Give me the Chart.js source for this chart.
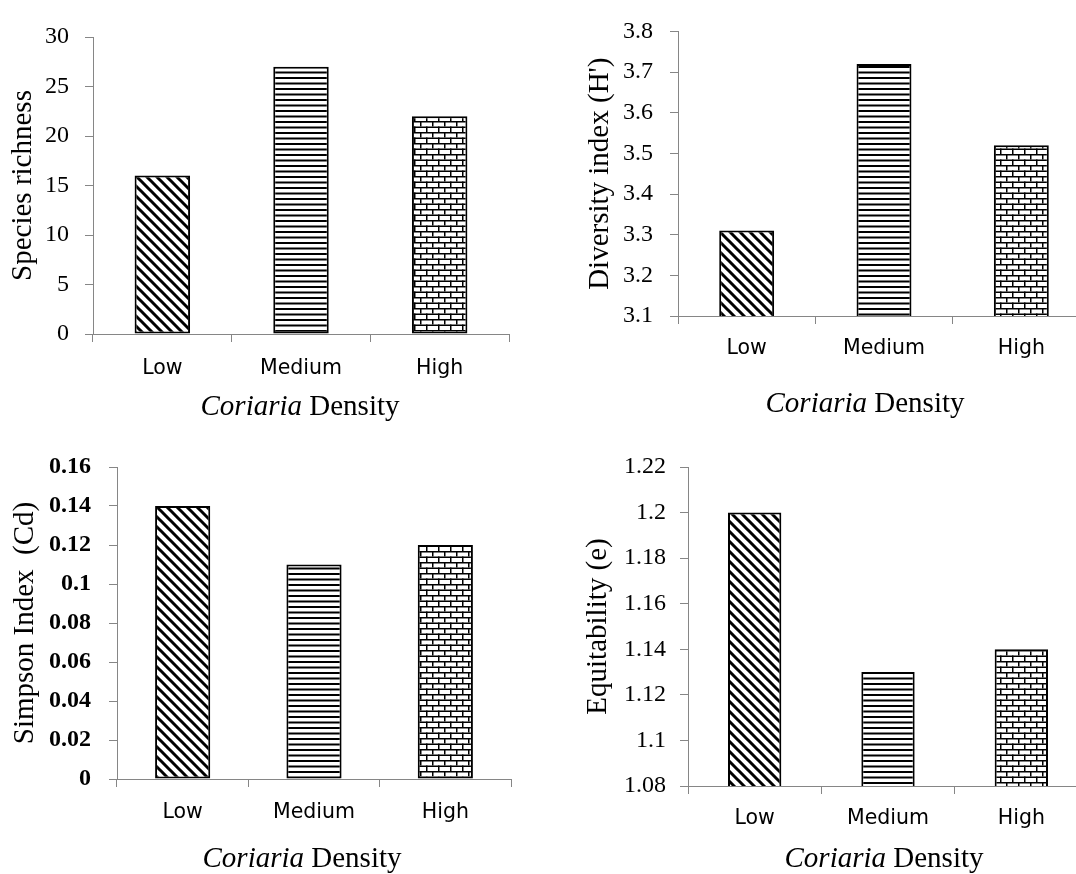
<!DOCTYPE html>
<html>
<head>
<meta charset="utf-8">
<script src="https://cdn.jsdelivr.net/npm/chart.js@4"></script>
<style>
  html, body { margin: 0; padding: 0; background: #fff; overflow: hidden; }
  #wrap { position: relative; width: 1076px; height: 874px; overflow: hidden; background: #fff; }
  #wrap canvas { position: absolute; }
  .xtitle {
    position: absolute; width: 320px; text-align: center;
    font-family: "Liberation Serif", serif; font-size: 29px; line-height: 29px;
    color: #000; white-space: nowrap;
  }
</style>
</head>
<body>
<div id="wrap">
  <canvas id="c1" width="538" height="430" style="left:0px;top:0px"></canvas>
  <canvas id="c2" width="562" height="430" style="left:538px;top:0px"></canvas>
  <canvas id="c3" width="538" height="444" style="left:0px;top:430px"></canvas>
  <canvas id="c4" width="562" height="444" style="left:538px;top:430px"></canvas>
  <div class="xtitle" style="left:140px;top:391px"><i>Coriaria</i> Density</div>
  <div class="xtitle" style="left:705px;top:388px"><i>Coriaria</i> Density</div>
  <div class="xtitle" style="left:142px;top:843px"><i>Coriaria</i> Density</div>
  <div class="xtitle" style="left:724px;top:843px"><i>Coriaria</i> Density</div>
</div>
<script>
  var categories = ['Low', 'Medium', 'High']

  var richness     = [16, 27, 22]
  var diversity    = [3.31, 3.72, 3.52]
  var simpson      = [0.14, 0.11, 0.12]
  var equitability = [1.2, 1.13, 1.14]

  var richnessTicks     = ['0', '5', '10', '15', '20', '25', '30']
  var diversityTicks    = ['3.1', '3.2', '3.3', '3.4', '3.5', '3.6', '3.7', '3.8']
  var simpsonTicks      = ['0', '0.02', '0.04', '0.06', '0.08', '0.1', '0.12', '0.14', '0.16']
  var equitabilityTicks = ['1.08', '1.1', '1.12', '1.14', '1.16', '1.18', '1.2', '1.22']

  var axisGrey = '#868686'

  // small tiles for the black & white hatch fills
  function makePattern(kind) {
    var c = document.createElement('canvas')
    var g = c.getContext('2d')
    if (kind === 'diag') {
      c.width = 10; c.height = 10
      g.fillStyle = '#fff'; g.fillRect(0, 0, 10, 10)
      g.strokeStyle = '#000'; g.lineWidth = 3
      g.beginPath()
      g.moveTo(-1, -1); g.lineTo(11, 11)
      g.moveTo(8, -2); g.lineTo(12, 2)
      g.moveTo(-2, 8); g.lineTo(2, 12)
      g.stroke()
    } else if (kind === 'horiz') {
      c.width = 4; c.height = 11
      g.fillStyle = '#fff'; g.fillRect(0, 0, 4, 11)
      g.fillStyle = '#000'
      g.fillRect(0, 0, 4, 2)
      g.fillRect(0, 5.5, 4, 2)
    } else {
      c.width = 12; c.height = 11
      g.fillStyle = '#fff'; g.fillRect(0, 0, 12, 11)
      g.fillStyle = '#000'
      g.fillRect(0, 0, 12, 1.5)
      g.fillRect(0, 5.5, 12, 1.5)
      g.fillRect(0, 0, 1.5, 5.5)
      g.fillRect(6, 5.5, 1.5, 5.5)
    }
    return g.createPattern(c, 'repeat')
  }

  var fills = [makePattern('diag'), makePattern('horiz'), makePattern('brick')]

  function makeChart(id, values, tickLabels, p) {
    var ctx = document.getElementById(id).getContext('2d')
    return new Chart(ctx, {
      type: 'bar',
      data: {
        labels: categories,
        datasets: [{
          data: values,
          backgroundColor: fills,
          borderColor: '#000',
          borderWidth: 2,
          borderSkipped: false,
          barPercentage: p.barPct,
          categoryPercentage: 1
        }]
      },
      options: {
        responsive: false,
        animation: false,
        layout: { padding: { left: 0, top: p.top, right: p.right, bottom: 0 } },
        plugins: { legend: { display: false }, tooltip: { enabled: false } },
        scales: {
          x: {
            grid: { display: true, offset: true, drawOnChartArea: false, color: axisGrey, tickLength: 8 },
            border: { color: axisGrey, width: 1 },
            ticks: {
              color: '#000', padding: p.xPad,
              font: { family: 'DejaVu Sans', size: 20.5 }
            },
            afterFit: function (s) { s.height = p.xHeight }
          },
          y: {
            min: p.min, max: p.max,
            grid: { drawOnChartArea: false, color: axisGrey, tickLength: 8 },
            border: { color: axisGrey, width: 1 },
            ticks: {
              stepSize: p.step, color: '#000', padding: p.yPad,
              font: { family: 'Liberation Serif', size: 24, weight: p.bold ? 'bold' : 'normal' },
              callback: function (v, i) { return tickLabels[i] }
            },
            title: {
              display: true, text: p.title, color: '#000',
              font: { family: 'Liberation Serif', size: 29 },
              padding: { top: p.titlePad, bottom: 0 }
            },
            afterFit: function (s) { s.width = p.yWidth }
          }
        }
      }
    })
  }

  makeChart('c1', richness, richnessTicks, {
    min: 0, max: 30, step: 5, title: 'Species richness', bold: false,
    top: 37, right: 29, yWidth: 93, xHeight: 96, barPct: 0.40,
    xPad: 14, yPad: 16, titlePad: 5.6
  })
  makeChart('c2', diversity, diversityTicks, {
    min: 3.1, max: 3.8, step: 0.1, title: "Diversity index (H')", bold: false,
    top: 20, right: 10, yWidth: 140, xHeight: 114, barPct: 0.40,
    xPad: 12, yPad: 17, titlePad: 44.6
  })
  makeChart('c3', simpson, simpsonTicks, {
    min: 0, max: 0.16, step: 0.02, title: 'Simpson Index  (Cd)', bold: true,
    top: 37, right: 27, yWidth: 117, xHeight: 95, barPct: 0.42,
    xPad: 13, yPad: 18, titlePad: 7.6
  })
  makeChart('c4', equitability, equitabilityTicks, {
    min: 1.08, max: 1.22, step: 0.02, title: 'Equitability (e)', bold: false,
    top: 37, right: 12, yWidth: 150, xHeight: 88, barPct: 0.40,
    xPad: 12, yPad: 14, titlePad: 42.6
  })
</script>
</body>
</html>
